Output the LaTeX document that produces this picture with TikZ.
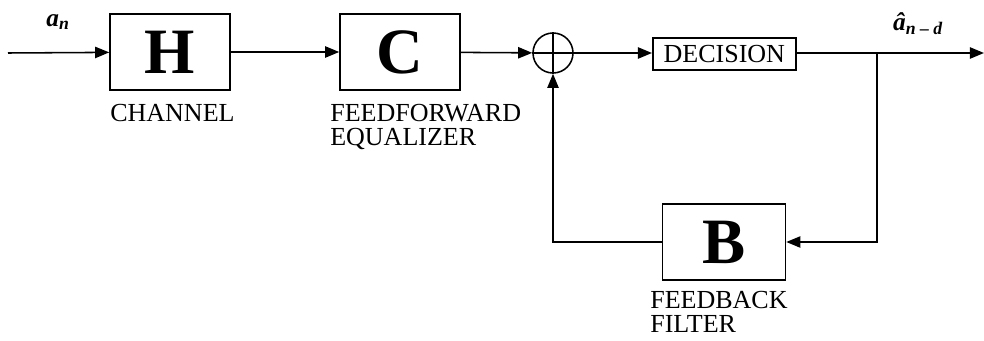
\documentclass[tikz,border=0pt]{standalone}
\usepackage{fontspec}
\setmainfont{Liberation Serif}
\usetikzlibrary{arrows.meta, positioning, calc, shapes}

\tikzset{
    block/.style={draw, line width=1.1pt, minimum width=3cm, minimum height=1.9cm, inner sep=0pt, font=\fontsize{46}{46}\selectfont\bfseries},
    decbox/.style={draw, line width=1.1pt, minimum width=3.575cm, minimum height=0.8cm, inner sep=0pt, font=\fontsize{18.5}{20}\selectfont},
    summer/.style={draw, circle, line width=1.1pt, minimum size=1.0cm, inner sep=0pt},
    caption/.style={align=left, anchor=north west, inner sep=0pt, font=\fontsize{18.5}{17}\selectfont},
    signal/.style={line width=1.1pt, -{Triangle[length=10pt, width=8pt]}},
    wire/.style={line width=1.1pt}
}

\begin{document}
\begin{tikzpicture}[x=0.025cm, y=-0.025cm]
        \useasboundingbox (0,0) rectangle (984,341);

        % forward path
        \coordinate (in) at (8,53);
        \node[block] (H) at (170,52) {H};
        \node[block] (C) at (400,52) {C};
        \node[summer] (sum) at (553,53) {};
        \draw[wire] (sum.west) -- (sum.east);
        \draw[wire] (sum.north) -- (sum.south);
        \node[decbox, anchor=west] (dec) at (652,54) {DECISION};
        \coordinate (split) at (877,53);
        \coordinate (out) at (984,53);

        % feedback path
        \node[block, minimum width=3.075cm] (B) at (724,242) {B};
        \coordinate (turn) at (877,242);
        \coordinate (back) at (553,242);

        % connections
        \draw[signal] (in) -- (H);
        \draw[signal] (H) -- (C);
        \draw[signal] (C) -- (sum);
        \draw[signal] (sum) -- (dec.west |- sum);
        \draw[signal] (dec.east |- split) -- (out);
        \draw[signal] (split) -- (turn) -- (B);
        \draw[signal] (B) -- (back) -- (sum);

        % labels
        \node[font=\fontsize{18}{20}\selectfont] (an) at (58,22) {\textit{\textbf{a}\textsubscript{\textbf{n}}}};
        \node[font=\fontsize{18}{20}\selectfont] (ahat) at (918,24) {\textit{\textbf{â}\textsubscript{\textbf{n – d}}}};
        \node[caption] (chan) at (110,104) {CHANNEL};
        \node[caption] (ffe) at (330,104) {FEEDFORWARD\\EQUALIZER};
        \node[caption] (fbf) at (650,291) {FEEDBACK\\FILTER};
    \end{tikzpicture}
\end{document}
